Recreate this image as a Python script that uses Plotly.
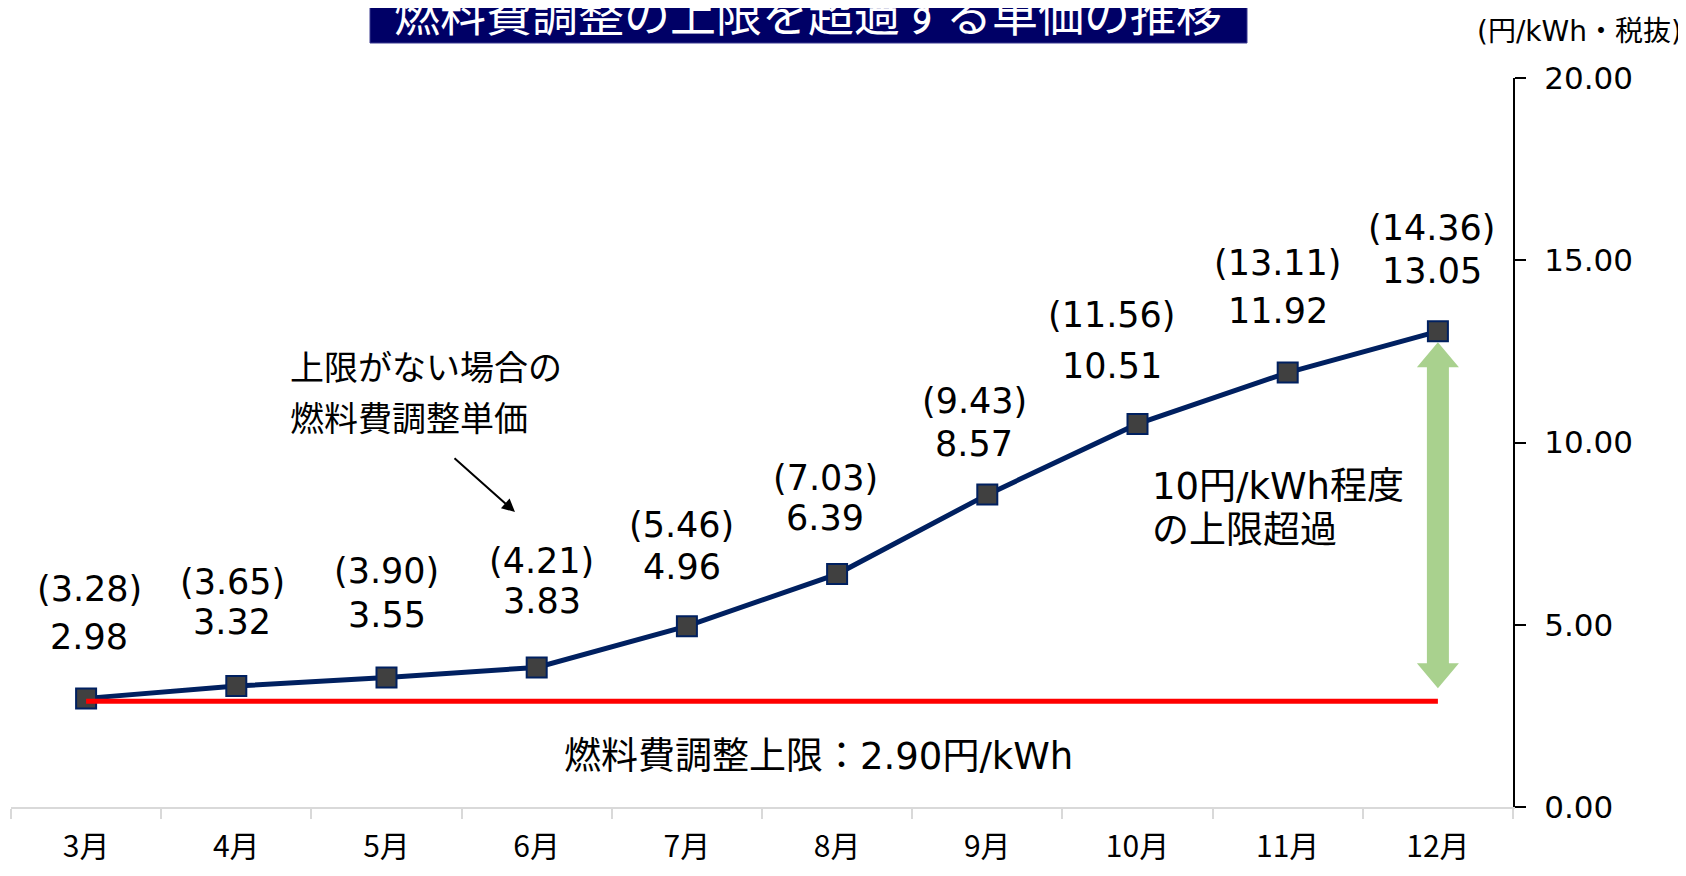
import plotly.graph_objects as go

# ---- data ----
MONTHS = ["3月", "4月", "5月", "6月", "7月", "8月", "9月", "10月", "11月", "12月"]
CAPPED = [2.98, 3.32, 3.55, 3.83, 4.96, 6.39, 8.57, 10.51, 11.92, 13.05]
UNCAPPED = [3.28, 3.65, 3.90, 4.21, 5.46, 7.03, 9.43, 11.56, 13.11, 14.36]
CAP = 2.90
Y_TICKS = [0, 5, 10, 15, 20]

TITLE = "燃料費調整の上限を超過する単価の推移"
UNIT = "(円/kWh・税抜)"
NOTE_LINES = ["上限がない場合の", "燃料費調整単価"]
GAP_LINES = ["10円/kWh程度", "の上限超過"]
CAP_LABEL = "燃料費調整上限：2.90円/kWh"

# ---- label placement nudges (pixels, relative to each point) ----
LABEL_DX = [3, -4, 0, 5, -5, -12, -13, -26, -10, -6]
VALUE_DY = [61, 64, 63, 66, 59, 56, 51, 58, 62, 60]
PAREN_DY = [109, 104, 107, 106, 101, 96, 94, 109, 110, 103]

# ---- layout geometry (page pixels; page body has an 8px margin) ----
OFF = 8
W, H = 1678, 860
L, R, T, B = 11, 1513, 78, 807  # plot area in page pixels


def px(x):
    return (x - L) / (R - L)


def py(y):
    return (B - y) / (B - T)


LAT = "DejaVu Sans, Noto Sans CJK JP"
JP = "Noto Sans CJK JP"
NAVY = "#002060"

fig = go.Figure()

fig.add_trace(go.Scatter(
    x=MONTHS, y=CAPPED, mode="lines+markers",
    line=dict(color=NAVY, width=5),
    marker=dict(symbol="square", size=20, color="#404040",
                line=dict(color=NAVY, width=2)),
    hoverinfo="skip",
))
fig.add_trace(go.Scatter(
    x=[MONTHS[0], MONTHS[-1]], y=[CAP, CAP], mode="lines",
    line=dict(color="#FF0000", width=5), hoverinfo="skip",
))

annotations = []
for i, (m, v, u) in enumerate(zip(MONTHS, CAPPED, UNCAPPED)):
    annotations.append(dict(x=m, y=v, xref="x", yref="y", text=f"{v:.2f}",
                            showarrow=False, yshift=VALUE_DY[i], xshift=LABEL_DX[i],
                            font=dict(family=LAT, size=35, color="black")))
    annotations.append(dict(x=m, y=v, xref="x", yref="y", text=f"({u:.2f})",
                            showarrow=False, yshift=PAREN_DY[i], xshift=LABEL_DX[i],
                            font=dict(family=LAT, size=35, color="black")))

# left note + arrow
for i, t in enumerate(NOTE_LINES):
    annotations.append(dict(x=px(288), y=py(368 + 51 * i), xref="paper", yref="paper",
                            text=t, showarrow=False, xanchor="left", yanchor="middle",
                            font=dict(family=LAT, size=34, color="black")))
annotations.append(dict(x=px(515), y=py(512), xref="paper", yref="paper", text="",
                        showarrow=True, ax=-62, ay=-55, arrowhead=2, arrowsize=1.3,
                        arrowwidth=2, arrowcolor="black"))

# gap text
for i, t in enumerate(GAP_LINES):
    annotations.append(dict(x=px(1150), y=py(486 + 44 * i), xref="paper", yref="paper",
                            text=t, showarrow=False, xanchor="left", yanchor="middle",
                            font=dict(family=LAT, size=37, color="black")))

# cap label
annotations.append(dict(x=px(818), y=py(756), xref="paper", yref="paper", text=CAP_LABEL,
                        showarrow=False, xanchor="center", yanchor="middle",
                        font=dict(family=LAT, size=37, color="black")))

# unit label
annotations.append(dict(x=px(1684), y=py(31), xref="paper", yref="paper", text=UNIT,
                        showarrow=False, xanchor="right", yanchor="middle",
                        font=dict(family=LAT, size=28, color="black")))

# title
annotations.append(dict(x=px(808), y=py(11), xref="paper", yref="paper", text=TITLE,
                        showarrow=False, xanchor="center", yanchor="middle",
                        font=dict(family=JP, size=46, color="white")))

# green double arrow between capped top value and cap line
ppu = (B - T) / 20.0
top = CAPPED[-1] - 11 / ppu
bot = CAP + 13 / ppu
head = 25 / ppu
path = (f"M 0,{top} L 21,{top - head} L 11,{top - head} L 11,{bot + head} "
        f"L 21,{bot + head} L 0,{bot} L -21,{bot + head} L -11,{bot + head} "
        f"L -11,{top - head} L -21,{top - head} Z")

shapes = [
    dict(type="rect", xref="paper", yref="paper", x0=px(370), x1=px(1247),
         y0=py(43), y1=py(0), fillcolor="#000066", line=dict(color="#3A3A90", width=1),
         layer="below"),
    dict(type="path", xref="x", yref="y", xsizemode="pixel", xanchor=MONTHS[-1],
         path=path, fillcolor="#A9D18E", line=dict(width=0), layer="below"),
]

fig.update_layout(
    width=W, height=H,
    margin=dict(l=L - OFF, r=W - (R - OFF), t=T - OFF, b=H - (B - OFF), pad=0,
                autoexpand=False),
    paper_bgcolor="white", plot_bgcolor="white",
    showlegend=False,
    annotations=annotations, shapes=shapes,
    xaxis=dict(
        type="category", range=[-0.5, len(MONTHS) - 0.5], automargin=False,
        showgrid=False, zeroline=False,
        showline=True, linecolor="#D9D9D9", linewidth=2,
        ticks="outside", tickson="boundaries", ticklen=10, tickcolor="#D9D9D9", tickwidth=2,
        ticklabelstandoff=12,
        tickfont=dict(family=JP, size=30, color="black"),
    ),
    yaxis=dict(
        side="right", range=[0, 20], tickvals=Y_TICKS, automargin=False,
        ticktext=[f"{v:.2f}" for v in Y_TICKS],
        showgrid=False, zeroline=False,
        showline=True, linecolor="black", linewidth=2,
        ticks="outside", ticklen=11, tickcolor="black", tickwidth=2,
        ticklabelstandoff=12,
        tickfont=dict(family="DejaVu Sans", size=31, color="black"),
    ),
)

fig.write_html("out.html")
